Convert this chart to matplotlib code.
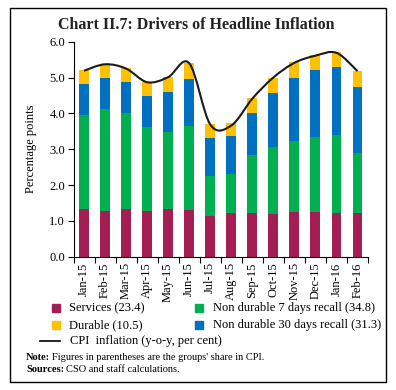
import matplotlib
matplotlib.use("Agg")
import matplotlib.pyplot as plt
from matplotlib.path import Path
from matplotlib.patches import PathPatch, Rectangle
from matplotlib.lines import Line2D
import numpy as np

plt.rcParams['font.family'] = ['Liberation Serif', 'DejaVu Serif']

months = ['Jan-15', 'Feb-15', 'Mar-15', 'Apr-15', 'May-15', 'Jun-15', 'Jul-15',
          'Aug-15', 'Sep-15', 'Oct-15', 'Nov-15', 'Dec-15', 'Jan-16', 'Feb-16']
services = [1.33, 1.28, 1.32, 1.28, 1.32, 1.30, 1.14, 1.23, 1.23, 1.20, 1.25, 1.26, 1.21, 1.23]
nondur_7 = [2.62, 2.85, 2.68, 2.33, 2.17, 2.35, 1.11, 1.08, 1.61, 1.86, 1.99, 2.07, 2.18, 1.66]
nondur_30 = [0.87, 0.87, 0.88, 0.87, 1.11, 1.30, 1.07, 1.06, 1.16, 1.52, 1.76, 1.88, 1.90, 1.84]
durable = [0.38, 0.38, 0.40, 0.40, 0.42, 0.46, 0.38, 0.37, 0.42, 0.42, 0.42, 0.41, 0.41, 0.44]
cpi = [5.19, 5.37, 5.25, 4.87, 5.01, 5.40, 3.69, 3.66, 4.41, 5.00, 5.41, 5.61, 5.69, 5.18]

c_serv = '#A51E53'
c_nd7 = '#00B050'
c_nd30 = '#0070C0'
c_dur = '#FFC000'

W, H = 396, 390
fig = plt.figure(figsize=(W / 100, H / 100), dpi=100)


def fx(px):
    return px / W


def fy(py):
    return 1 - py / H


# outer frame
fig.add_artist(Rectangle((fx(9.5), fy(382)), fx(386) - fx(9.5), fy(8) - fy(382),
                         transform=fig.transFigure, fill=False, lw=1.0, ec='black'))

ax = fig.add_axes([fx(73.5), fy(256.7), fx(368) - fx(73.5), fy(41.7) - fy(256.7)])

x = np.arange(len(months))
bw = 0.47
b1 = np.array(services)
b2 = b1 + np.array(nondur_7)
b3 = b2 + np.array(nondur_30)
ax.bar(x, services, bw, color=c_serv)
ax.bar(x, nondur_7, bw, bottom=b1, color=c_nd7)
ax.bar(x, nondur_30, bw, bottom=b2, color=c_nd30)
ax.bar(x, durable, bw, bottom=b3, color=c_dur)

# smoothed CPI line (Bezier through the data points)
pts = np.column_stack([x, cpi]).astype(float)
verts = [pts[0]]
codes = [Path.MOVETO]
n = len(pts)
for i in range(n - 1):
    p0 = pts[i - 1] if i > 0 else pts[i]
    p1 = pts[i]
    p2 = pts[i + 1]
    p3 = pts[i + 2] if i + 2 < n else pts[i + 1]
    verts += [p1 + (p2 - p0) / 6, p2 - (p3 - p1) / 6, p2]
    codes += [Path.CURVE4] * 3
ax.add_patch(PathPatch(Path(verts, codes), fill=False, ec='#1a1a1a', lw=1.5,
                       transform=ax.transData, zorder=5))

ax.set_xlim(-0.5, len(months) - 0.5)
ax.set_ylim(0, 6)
ax.set_yticks(np.arange(0, 6.1, 1.0))
ax.set_yticklabels([f'{v:.1f}' for v in np.arange(0, 6.1, 1.0)], fontsize=9)
ax.set_xticks(x)
ax.set_xticklabels(months, rotation=90, fontsize=9)
ax.set_xticks(np.arange(-0.5, len(months), 1.0), minor=True)
ax.tick_params(axis='x', which='major', length=0, pad=4)
ax.tick_params(axis='x', which='minor', length=4, width=0.8)
ax.tick_params(axis='y', length=4, width=0.8, pad=2)
for s in ['top', 'right']:
    ax.spines[s].set_visible(False)
ax.spines['left'].set_linewidth(0.8)
ax.spines['bottom'].set_linewidth(0.8)
ax.set_ylabel('Percentage points', fontsize=9)
ax.yaxis.set_label_coords(-0.125, 0.5)

fig.text(fx(196), fy(25), 'Chart II.7: Drivers of Headline Inflation', ha='center',
         va='center', fontsize=11.5, fontweight='bold', color='#222222')

# legend
items = [(51.5, 308, c_serv, 'Services (23.4)'),
         (51.5, 325, c_dur, 'Durable (10.5)'),
         (195, 308, c_nd7, 'Non durable 7 days recall (34.8)'),
         (195, 325, c_nd30, 'Non durable 30 days recall (31.3)')]
for px, py, col, lab in items:
    fig.add_artist(Rectangle((fx(px), fy(py + 4)), fx(8.5), fy(0) - fy(8.5),
                             transform=fig.transFigure, color=col))
    fig.text(fx(px + 17.5), fy(py), lab, ha='left', va='center', fontsize=9)
fig.add_artist(Line2D([fx(39.5), fx(60)], [fy(341), fy(341)], transform=fig.transFigure,
                      color='black', lw=1.2))
fig.text(fx(70), fy(341), 'CPI  inflation (y-o-y, per cent)', ha='left', va='center', fontsize=9)

# footnotes: bold label followed by plain text
renderer = fig.canvas.get_renderer()
for py, head, body in [(357, 'Note:', "Figures in parentheses are the groups' share in CPI."),
                       (369, 'Sources:', 'CSO and staff calculations.')]:
    t = fig.text(fx(26), fy(py), head, ha='left', va='center', fontsize=7.5, fontweight='bold')
    bb = t.get_window_extent(renderer)
    fig.text(fx(bb.x1 + 1.5), fy(py), body, ha='left', va='center', fontsize=7.5)

fig.savefig('out.png', dpi=100)
